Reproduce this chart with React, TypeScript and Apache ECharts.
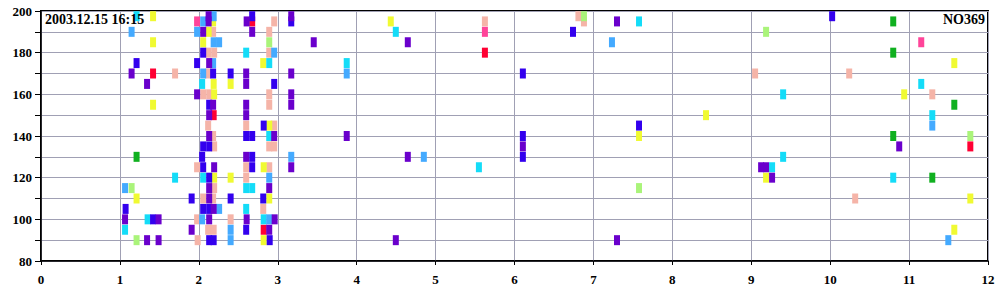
import React, { useEffect, useRef } from "react";
import * as echarts from "echarts";

const TITLE_LEFT = "2003.12.15 16:15";
const TITLE_RIGHT = "NO369";

const X_MIN = 0;
const X_MAX = 12;
const Y_MIN = 80;
const Y_MAX = 200;
const Y_LABEL_STEP = 20;

const red: number[][] = [
  [1.42, 170], [2.188, 150], [2.676, 195], [2.822, 95], [5.625, 180], [11.776, 135],
];
const salmon: number[][] = [
  [1.699, 170], [2.181, 190], [2.118, 180], [2.194, 180], [2.118, 170], [2.055, 160],
  [2.131, 160], [2.118, 145], [2.181, 140], [2.194, 135], [2.194, 115], [2.181, 110],
  [2.118, 95], [2.188, 95], [1.978, 125], [2.055, 110], [1.978, 100], [1.985, 90],
  [2.955, 195], [2.892, 190], [2.892, 180], [2.892, 160], [2.892, 155], [2.6, 145],
  [2.955, 145], [2.892, 135], [2.955, 135], [2.6, 125], [2.6, 120], [2.892, 125],
  [2.816, 105], [2.403, 100], [5.625, 195], [6.81, 197.5], [6.88, 195], [9.049, 170],
  [10.241, 170], [11.294, 160], [10.317, 110],
];
const yellow: number[][] = [
  [1.42, 197.5], [1.42, 185], [1.42, 155], [2.181, 195], [2.124, 190], [2.055, 185],
  [2.188, 165], [2.194, 160], [2.194, 120], [1.211, 110], [2.816, 175], [2.403, 165],
  [2.403, 120], [2.822, 125], [2.892, 110], [2.822, 90], [2.892, 145], [4.432, 195],
  [7.578, 140], [11.573, 175], [10.938, 160], [8.427, 150], [9.188, 120], [11.776, 110],
  [11.573, 95],
];
const green: number[][] = [
  [1.211, 130], [10.799, 195], [10.799, 180], [10.799, 140], [11.573, 155], [11.294, 120],
];
const lightGreen: number[][] = [
  [1.148, 115], [1.211, 90], [2.892, 185], [6.88, 197.5], [7.578, 115], [9.188, 190],
  [11.776, 140],
];
const hotPink: number[][] = [
  [1.978, 195], [5.625, 190], [11.154, 185],
];
const cyan: number[][] = [
  [1.211, 197.5], [2.042, 165], [1.699, 120], [2.055, 120], [1.351, 100], [1.065, 95],
  [2.6, 180], [2.892, 175], [2.892, 140], [2.6, 115], [2.676, 115], [2.6, 105],
  [2.822, 100], [4.496, 190], [7.578, 195], [3.874, 175], [5.549, 125], [11.154, 165],
  [9.404, 160], [11.294, 150], [9.404, 130], [9.264, 125], [10.799, 120],
];
const blue: number[][] = [
  [1.211, 175], [2.055, 180], [1.978, 175], [2.181, 170], [2.131, 155], [2.055, 135],
  [2.131, 135], [2.042, 130], [2.055, 125], [2.131, 120], [1.909, 110], [1.072, 105],
  [2.055, 105], [2.131, 105], [1.42, 100], [2.131, 90], [2.188, 90], [2.676, 197.5],
  [3.171, 195], [2.403, 170], [2.955, 165], [2.822, 145], [2.6, 140], [2.676, 140],
  [2.676, 130], [2.676, 125], [2.403, 110], [2.816, 110], [2.6, 95], [2.898, 90],
  [6.741, 190], [6.106, 170], [7.578, 145], [6.106, 140], [6.106, 130], [10.025, 197.5],
];
const lightBlue: number[][] = [
  [1.148, 190], [2.055, 195], [2.188, 197.5], [1.978, 190], [2.188, 185], [2.257, 185],
  [2.181, 175], [2.055, 170], [2.955, 180], [2.892, 120], [2.257, 105], [1.065, 115],
  [2.042, 100], [3.171, 130], [2.892, 100], [2.403, 95], [2.403, 90], [3.874, 170],
  [7.235, 185], [4.851, 130], [11.294, 145], [11.497, 90],
];
const violet: number[][] = [
  [1.148, 170], [1.344, 165], [2.124, 197.5], [2.124, 195], [2.055, 190], [2.131, 175],
  [1.978, 160], [2.181, 155], [2.131, 150], [2.131, 140], [2.194, 125], [2.131, 115],
  [2.131, 110], [2.188, 105], [2.131, 100], [1.065, 100], [1.49, 100], [1.909, 95],
  [1.344, 90], [1.49, 90], [2.606, 195], [2.676, 190], [3.171, 197.5], [2.6, 170],
  [2.6, 165], [3.171, 170], [3.171, 160], [3.171, 155], [2.6, 155], [2.6, 150],
  [2.955, 140], [2.6, 130], [3.171, 125], [2.892, 115], [2.606, 100], [2.961, 100],
  [2.892, 95], [3.456, 185], [4.648, 185], [3.874, 140], [6.106, 135], [7.299, 195],
  [4.648, 130], [4.496, 90], [7.299, 90], [10.875, 135], [9.125, 125], [9.188, 125],
  [9.264, 120],
];

const GROUPS: { name: string; color: string; data: number[][] }[] = [
  { name: "red", color: "#FF0033", data: red },
  { name: "salmon", color: "#F5B4A8", data: salmon },
  { name: "yellow", color: "#F0FA32", data: yellow },
  { name: "green", color: "#10B020", data: green },
  { name: "lightGreen", color: "#AAF47A", data: lightGreen },
  { name: "hotPink", color: "#FF4499", data: hotPink },
  { name: "cyan", color: "#14DCF8", data: cyan },
  { name: "blue", color: "#3300EE", data: blue },
  { name: "lightBlue", color: "#44AAFF", data: lightBlue },
  { name: "violet", color: "#6A00CC", data: violet },
];

const FONT = '"Liberation Serif", "Times New Roman", serif';

export default function App() {
  const ref = useRef<HTMLDivElement>(null);
  useEffect(() => {
    if (!ref.current) return;
    const chart = echarts.init(ref.current, undefined, { renderer: "svg" });
    chart.setOption({
      animation: false,
      backgroundColor: "#ffffff",
      grid: {
        left: 41,
        right: 12,
        top: 11,
        bottom: 39,
        show: true,
        borderColor: "#000",
        borderWidth: 2,
        backgroundColor: "transparent",
      },
      xAxis: {
        type: "value",
        min: X_MIN,
        max: X_MAX,
        interval: 1,
        axisLine: { show: true, lineStyle: { color: "#000", width: 1.5 } },
        axisTick: { show: true, length: 4, lineStyle: { color: "#000" } },
        axisLabel: {
          color: "#000",
          fontFamily: FONT,
          fontWeight: "bold",
          fontSize: 13,
          margin: 12,
        },
        splitLine: { show: true, lineStyle: { color: "#A0A0B4", width: 1 } },
      },
      yAxis: {
        type: "value",
        min: Y_MIN,
        max: Y_MAX,
        interval: 10,
        axisLine: { show: true, lineStyle: { color: "#000", width: 1.5 } },
        axisTick: { show: true, length: 6, lineStyle: { color: "#000" } },
        axisLabel: {
          color: "#000",
          fontFamily: FONT,
          fontWeight: "bold",
          fontSize: 13,
          margin: 9,
          formatter: (v: number) => (v % Y_LABEL_STEP === 0 ? String(v) : ""),
        },
        splitLine: { show: true, lineStyle: { color: "#A0A0B4", width: 1 } },
      },
      series: GROUPS.map((g) => ({
        type: "scatter",
        name: g.name,
        data: g.data,
        symbol: "rect",
        symbolSize: [6, 10],
        itemStyle: { color: g.color, opacity: 1 },
        emphasis: { disabled: true },
      })),
      graphic: [
        {
          type: "text",
          left: 45,
          top: 12,
          z: 100,
          style: {
            text: TITLE_LEFT,
            fill: "#000",
            font: `bold 14px ${FONT}`,
          },
        },
        {
          type: "text",
          right: 15,
          top: 12,
          z: 100,
          style: {
            text: TITLE_RIGHT,
            fill: "#000",
            font: `bold 14px ${FONT}`,
          },
        },
      ],
    });
    return () => chart.dispose();
  }, []);
  return (
    <div
      ref={ref}
      style={{ position: "absolute", left: 0, top: 0, width: 1000, height: 300 }}
    />
  );
}
